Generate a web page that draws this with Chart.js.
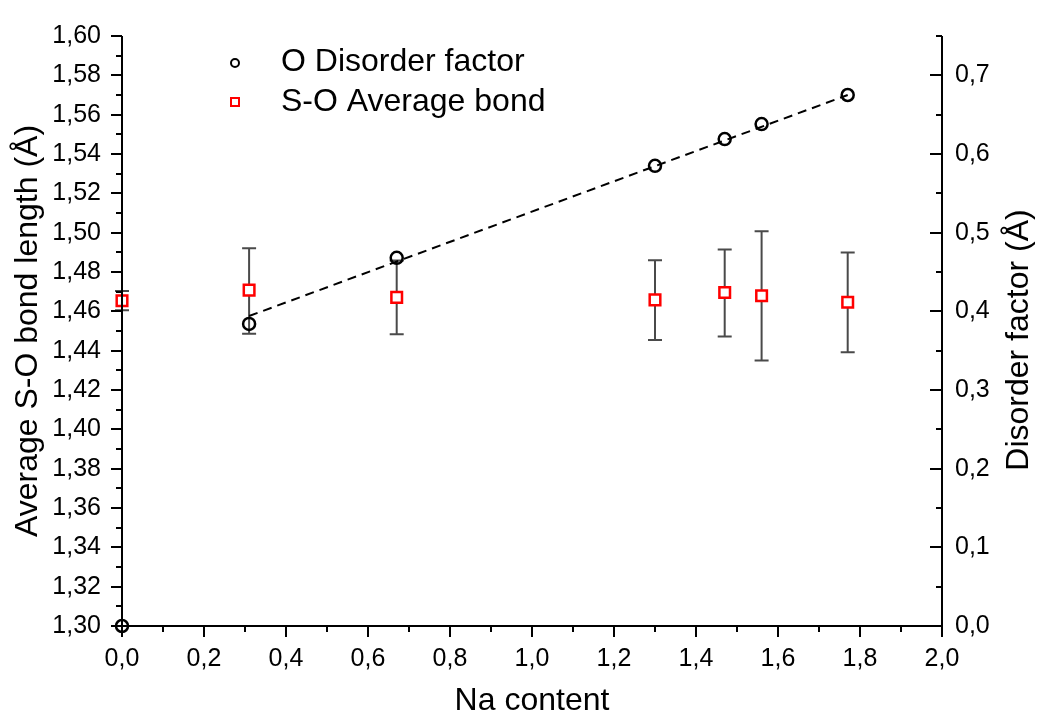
<!DOCTYPE html>
<html lang="en">
<head>
    <meta charset="UTF-8">
    <title>Na content vs S-O bond length</title>
    <script src="https://cdn.jsdelivr.net/npm/chart.js"></script>
    <style>
        html, body { margin: 0; padding: 0; background: #fff; }
    </style>
</head>
<body>
    <canvas id="chart" width="1037" height="720"></canvas>

    <script>
        // Na content of each sample
        const naContent = [0.0, 0.31, 0.67, 1.30, 1.47, 1.56, 1.77];
        // O disorder factor (right axis, Å)
        const disorder = [0.0, 0.384, 0.468, 0.585, 0.619, 0.638, 0.675];
        // average S-O bond length (left axis, Å) with error limits
        const bondLength = [1.4654, 1.4708, 1.4671, 1.4658, 1.4696, 1.4679, 1.4646];
        const bondUpper  = [1.4704, 1.4921, 1.4859, 1.4860, 1.4915, 1.5007, 1.4899];
        const bondLower  = [1.4605, 1.4486, 1.4483, 1.4454, 1.4472, 1.4350, 1.4392];
        // linear fit of the disorder factor
        const fitX = [0.31, 1.77];
        const fitY = [0.394, 0.675];

        const FONT = "'Liberation Sans', Arial, sans-serif";
        const comma = (v, d) => v.toFixed(d).replace(".", ",");

        // error bars for the bond series, drawn under the markers
        const errorBars = {
            id: "errorBars",
            beforeDatasetsDraw(chart) {
                const { ctx, scales } = chart;
                ctx.save();
                ctx.strokeStyle = "#4a4a4a";
                ctx.lineWidth = 2;
                naContent.forEach((x, i) => {
                    const px = scales.x.getPixelForValue(x);
                    const top = scales.y.getPixelForValue(bondUpper[i]);
                    const bot = scales.y.getPixelForValue(bondLower[i]);
                    ctx.beginPath();
                    ctx.moveTo(px, top); ctx.lineTo(px, bot);
                    ctx.moveTo(px - 7, top); ctx.lineTo(px + 7, top);
                    ctx.moveTo(px - 7, bot); ctx.lineTo(px + 7, bot);
                    ctx.stroke();
                });
                ctx.restore();
            }
        };

        // axis lines, major/minor ticks, right title and legend
        const frame = {
            id: "frame",
            afterDraw(chart) {
                const { ctx, chartArea: a, scales } = chart;
                ctx.save();
                ctx.strokeStyle = "#000";
                ctx.lineWidth = 2;
                ctx.beginPath();
                ctx.moveTo(a.left, a.top); ctx.lineTo(a.left, a.bottom + 1);
                ctx.moveTo(a.left - 1, a.bottom); ctx.lineTo(a.right + 1, a.bottom);
                ctx.moveTo(a.right, a.top); ctx.lineTo(a.right, a.bottom + 1);
                scales.y.ticks.forEach(t => {
                    const py = Math.round(scales.y.getPixelForValue(t.value));
                    const len = t.label !== "" ? 11 : 6;
                    ctx.moveTo(a.left - len, py); ctx.lineTo(a.left, py);
                });
                scales.y2.ticks.forEach(t => {
                    const py = Math.round(scales.y2.getPixelForValue(t.value));
                    const len = t.label !== "" ? 12 : 6;
                    ctx.moveTo(a.right - len, py); ctx.lineTo(a.right, py);
                });
                scales.x.ticks.forEach(t => {
                    const px = Math.round(scales.x.getPixelForValue(t.value));
                    const len = t.label !== "" ? 11 : 6;
                    ctx.moveTo(px, a.bottom); ctx.lineTo(px, a.bottom + len);
                });
                ctx.stroke();

                // right axis title, reading bottom to top
                ctx.fillStyle = "#000";
                ctx.font = "32px " + FONT;
                ctx.textAlign = "center";
                ctx.textBaseline = "middle";
                ctx.translate(1019, (a.top + a.bottom) / 2 + 9);
                ctx.rotate(-Math.PI / 2);
                ctx.fillText("Disorder factor (Å)", 0, 0);
                ctx.restore();

                // legend
                ctx.save();
                ctx.lineWidth = 2;
                ctx.strokeStyle = "#000";
                ctx.beginPath();
                ctx.arc(235, 63, 4, 0, Math.PI * 2);
                ctx.stroke();
                ctx.strokeStyle = "#ff0000";
                ctx.fillStyle = "#fff";
                ctx.fillRect(231, 98, 8, 8);
                ctx.strokeRect(231, 98, 8, 8);
                ctx.fillStyle = "#000";
                ctx.font = "32px " + FONT;
                ctx.textAlign = "left";
                ctx.textBaseline = "middle";
                ctx.fillText("O Disorder factor", 281, 62);
                ctx.fillText("S-O Average bond", 281, 102);
                ctx.restore();
            }
        };

        new Chart(document.getElementById("chart"), {
            type: "scatter",
            data: {
                datasets: [
                    {
                        label: "Fit",
                        type: "line",
                        data: fitX.map((x, i) => ({ x, y: fitY[i] })),
                        yAxisID: "y2",
                        borderColor: "#000",
                        borderWidth: 2,
                        borderDash: [9, 6],
                        pointRadius: 0,
                        fill: false,
                        clip: false
                    },
                    {
                        label: "O Disorder factor",
                        data: naContent.map((x, i) => ({ x, y: disorder[i] })),
                        yAxisID: "y2",
                        pointStyle: "circle",
                        pointRadius: 6,
                        borderColor: "#000",
                        backgroundColor: "rgba(0,0,0,0)",
                        borderWidth: 2.5,
                        clip: false
                    },
                    {
                        label: "S-O Average bond",
                        data: naContent.map((x, i) => ({ x, y: bondLength[i] })),
                        yAxisID: "y",
                        pointStyle: "rect",
                        pointRadius: 7.5,
                        borderColor: "#ff0000",
                        backgroundColor: "#fff",
                        borderWidth: 2.5,
                        clip: false
                    }
                ]
            },
            options: {
                responsive: false,
                devicePixelRatio: 1,
                animation: false,
                layout: { padding: { top: 24, left: 0, right: 0, bottom: 0 } },
                plugins: {
                    legend: { display: false },
                    tooltip: { enabled: false }
                },
                scales: {
                    x: {
                        type: "linear",
                        position: "bottom",
                        min: 0, max: 2,
                        grid: { display: false, drawTicks: false },
                        border: { display: false },
                        ticks: {
                            stepSize: 0.1,
                            autoSkip: false,
                            maxRotation: 0,
                            padding: 18,
                            color: "#000",
                            font: { family: FONT, size: 25 },
                            callback: v => Math.round(v * 10) % 2 === 0 ? comma(v, 1) : ""
                        },
                        title: {
                            display: true,
                            text: "Na content",
                            color: "#000",
                            font: { family: FONT, size: 32 },
                            padding: { top: 0, bottom: 0 }
                        },
                        afterFit: s => { s.height = 94; }
                    },
                    y: {
                        type: "linear",
                        position: "left",
                        min: 1.30, max: 1.60,
                        grid: { display: false, drawTicks: false },
                        border: { display: false },
                        ticks: {
                            stepSize: 0.01,
                            autoSkip: false,
                            padding: 21,
                            color: "#000",
                            font: { family: FONT, size: 25 },
                            callback: v => Math.round(v * 100) % 2 === 0 ? comma(v, 2) : ""
                        },
                        title: {
                            display: true,
                            text: "Average S-O bond length (Å)",
                            color: "#000",
                            font: { family: FONT, size: 32 },
                            padding: { top: 9, bottom: 0 }
                        },
                        afterFit: s => { s.width = 122; }
                    },
                    y2: {
                        type: "linear",
                        position: "right",
                        min: 0, max: 0.75,
                        grid: { display: false, drawTicks: false },
                        border: { display: false },
                        ticks: {
                            stepSize: 0.05,
                            autoSkip: false,
                            padding: 13,
                            color: "#000",
                            font: { family: FONT, size: 25 },
                            callback: v => Math.round(v * 100) % 10 === 0 ? comma(v, 1) : ""
                        },
                        afterFit: s => { s.width = 95; }
                    }
                }
            },
            plugins: [errorBars, frame]
        });
    </script>
</body>
</html>
